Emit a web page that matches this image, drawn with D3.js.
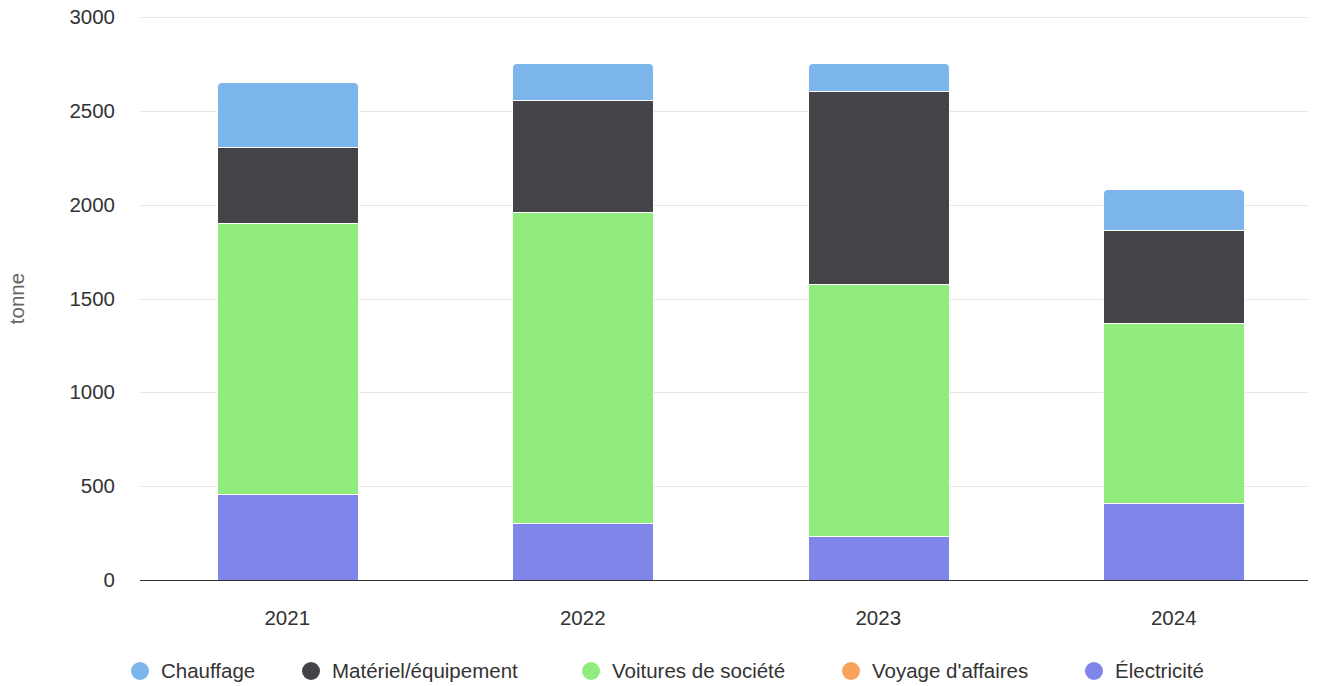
<!DOCTYPE html>
<html>
<head>
<meta charset="utf-8">
<script src="https://cdn.jsdelivr.net/npm/d3@7"></script>
<style>
  html, body { margin: 0; padding: 0; background: #fff; }
  svg { display: block; font-family: "Liberation Sans", Arial, Helvetica, sans-serif; }
</style>
</head>
<body>
<svg id="chart" width="1323" height="686"></svg>
<script>
// Years on the x axis
const years = ["2021", "2022", "2023", "2024"];

// Emissions per source, in tonnes
const chauffage   = [346, 199, 150, 217];
const materiel    = [407, 599, 1031, 494];
const voitures    = [1445, 1657, 1342, 959];
const voyage      = [0, 0, 0, 0];
const electricite = [457, 302, 234, 412];

// Legend order (top of stack first)
const seriesNames  = ["Chauffage", "Matériel/équipement", "Voitures de société", "Voyage d'affaires", "Électricité"];
const seriesValues = [chauffage, materiel, voitures, voyage, electricite];
const seriesColors = ["#7cb5ec", "#434348", "#90ed7d", "#f7a35c", "#8085e9"];

const yTicks = [0, 500, 1000, 1500, 2000, 2500, 3000];
const yTitle = "tonne";

const FS = 20.5;
const svg = d3.select("#chart");
const plot = { left: 140, right: 1308, top: 17, bottom: 580 };

const x = d3.scaleBand().domain(years).range([139.5, 1321.5]).padding(0);
const y = d3.scaleLinear().domain([0, 3000]).range([plot.bottom, plot.top]);
const barW = 141;

// Gridlines
svg.append("g")
  .selectAll("line")
  .data(yTicks.filter(t => t !== 0))
  .join("line")
  .attr("x1", plot.left).attr("x2", plot.right)
  .attr("y1", d => Math.round(y(d)) + 0.5).attr("y2", d => Math.round(y(d)) + 0.5)
  .attr("stroke", "#e6e6e6").attr("stroke-width", 1);

// Y axis labels
const yAxis = d3.axisLeft(y).tickValues(yTicks).tickSize(0).tickPadding(0).tickFormat(d3.format("d"));
const yg = svg.append("g").attr("transform", `translate(${plot.left - 25},0)`).call(yAxis);
yg.select(".domain").remove();
yg.selectAll("text").attr("font-size", FS).attr("fill", "#333").attr("font-family", "Liberation Sans, Arial, sans-serif");

// Y axis title
svg.append("text")
  .attr("transform", `translate(24,${(plot.top + plot.bottom) / 2}) rotate(-90)`)
  .attr("text-anchor", "middle")
  .attr("font-size", FS).attr("fill", "#666")
  .text(yTitle);

// Stacked data: bottom series first
const order = [4, 3, 2, 1, 0];
const rows = years.map((yr, i) => {
  const r = { year: yr };
  seriesNames.forEach((n, s) => { r[n] = seriesValues[s][i]; });
  return r;
});
const stack = d3.stack().keys(order.map(s => seriesNames[s]));
const layers = stack(rows);

// Topmost non-empty segment per year gets rounded top corners
const topKey = years.map((yr, i) => {
  for (const s of [0, 1, 2, 3, 4]) if (seriesValues[s][i] > 0) return seriesNames[s];
  return null;
});

function roundedTop(x0, y0, w, h, r) {
  r = Math.min(r, h, w / 2);
  return `M${x0},${y0 + h}V${y0 + r}Q${x0},${y0} ${x0 + r},${y0}H${x0 + w - r}Q${x0 + w},${y0} ${x0 + w},${y0 + r}V${y0 + h}Z`;
}

const bars = svg.append("g");
layers.forEach(layer => {
  const name = layer.key;
  const color = seriesColors[seriesNames.indexOf(name)];
  layer.forEach((seg, i) => {
    const v = seg[1] - seg[0];
    if (v <= 0) return;
    const x0 = Math.round(x(years[i]) + (x.bandwidth() - barW) / 2) + 0.5;
    const y0 = Math.round(y(seg[1])) + 0.5;
    const y1 = Math.round(y(seg[0])) + 0.5;
    const w = barW;
    const h = y1 - y0;
    const isTop = topKey[i] === name;
    bars.append("path")
      .attr("d", isTop ? roundedTop(x0, y0, w, h, 5) : `M${x0},${y0}h${w}v${h}h${-w}Z`)
      .attr("fill", color)
      .attr("stroke", "#ffffff").attr("stroke-width", 1);
  });
});

// X axis line
svg.append("line")
  .attr("x1", plot.left).attr("x2", plot.right)
  .attr("y1", plot.bottom + 0.5).attr("y2", plot.bottom + 0.5)
  .attr("stroke", "#333").attr("stroke-width", 1);

// X axis labels
const xAxis = d3.axisBottom(x).tickSize(0).tickPadding(0);
const xg = svg.append("g").attr("transform", `translate(0,${plot.bottom})`).call(xAxis);
xg.select(".domain").remove();
xg.selectAll("text").attr("dy", 0).attr("y", 45)
  .attr("font-size", FS).attr("fill", "#333").attr("font-family", "Liberation Sans, Arial, sans-serif");

// Legend
const legendX = [140, 311, 591, 851, 1094];
const legend = svg.append("g");
seriesNames.forEach((n, s) => {
  const g = legend.append("g").attr("transform", `translate(${legendX[s]},671)`);
  g.append("circle").attr("r", 9).attr("fill", seriesColors[s]);
  g.append("text").attr("x", 21).attr("y", 7)
    .attr("font-size", FS).attr("fill", "#333")
    .text(n);
});
</script>
</body>
</html>
